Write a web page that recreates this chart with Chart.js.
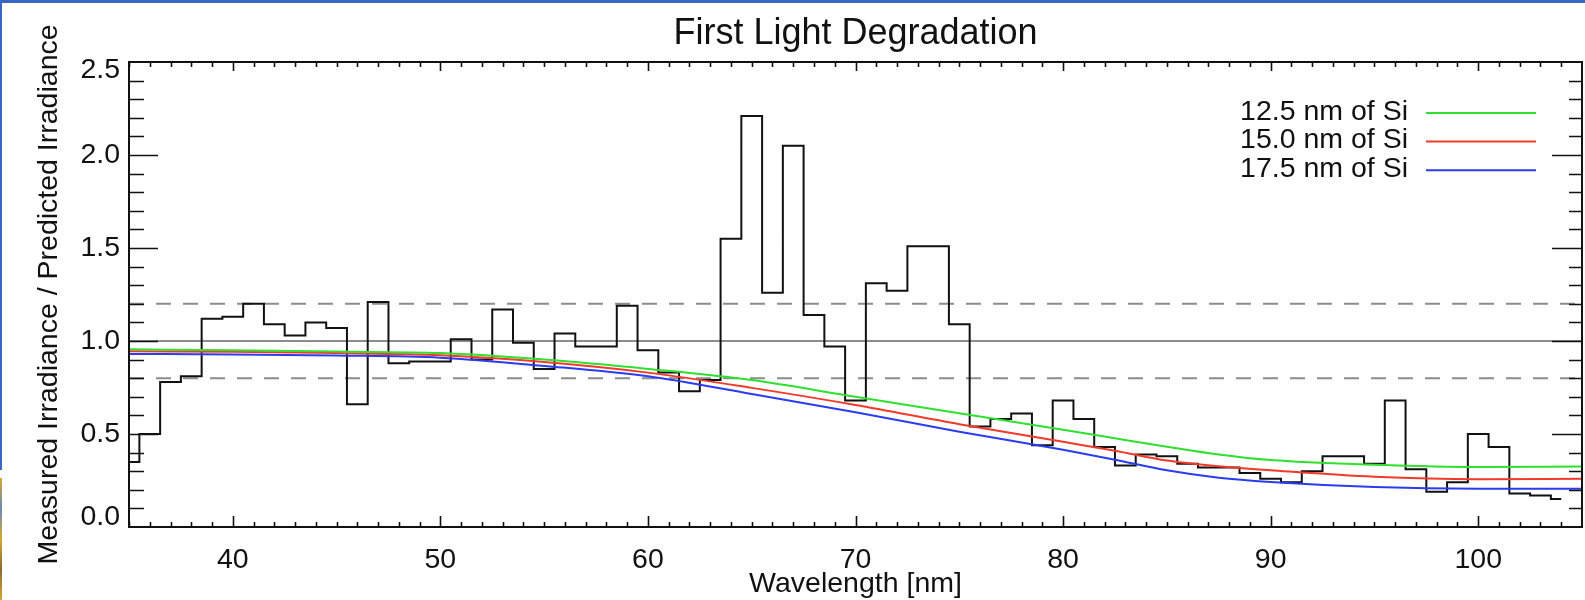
<!DOCTYPE html>
<html>
<head>
<meta charset="utf-8">
<title>First Light Degradation</title>
<script src="https://cdn.jsdelivr.net/npm/chart.js@4.4.1/dist/chart.umd.min.js"></script>
<style>
    html, body { margin: 0; padding: 0; background: #fff; }
    #wrap { position: relative; width: 1585px; height: 600px; overflow: hidden; }
    #topBand { position: absolute; left: 0; top: 0; width: 1585px; height: 3px; background: #3a66c4; }
    #leftBand { position: absolute; left: 0; top: 0; width: 2px; height: 470px; background: #3a66c4; }
    #leftImg { position: absolute; left: 0; top: 478px; width: 2px; height: 122px; background: linear-gradient(#d8a830, #6a88b8, #d8a830, #8a6a30, #d8a830); }
    canvas { display: block; }
</style>
</head>
<body>
<div id="wrap">
    <canvas id="degradationChart" width="1585" height="600"></canvas>
    <div id="topBand"></div>
    <div id="leftBand"></div>
    <div id="leftImg"></div>
</div>
<script>
// measured / predicted irradiance, one value per 1 nm bin
const wavelength = [35, 36, 37, 38, 39, 40, 41, 42, 43, 44, 45, 46, 47, 48, 49, 50, 51, 52, 53, 54,
    55, 56, 57, 58, 59, 60, 61, 62, 63, 64, 65, 66, 67, 68, 69, 70, 71, 72, 73, 74,
    75, 76, 77, 78, 79, 80, 81, 82, 83, 84, 85, 86, 87, 88, 89, 90, 91, 92, 93, 94,
    95, 96, 97, 98, 99, 100, 101, 102, 103, 104];
const ratio = [0.35, 0.50, 0.78, 0.81, 1.12, 1.13, 1.20, 1.09, 1.03, 1.10, 1.07, 0.66, 1.21, 0.88, 0.89, 0.89, 1.01, 0.90, 1.17, 0.99,
    0.85, 1.04, 0.97, 0.97, 1.19, 0.95, 0.83, 0.73, 0.79, 1.55, 2.21, 1.26, 2.05, 1.14, 0.97, 0.68, 1.31, 1.27, 1.51, 1.51,
    1.09, 0.54, 0.58, 0.61, 0.44, 0.68, 0.58, 0.43, 0.33, 0.39, 0.38, 0.34, 0.32, 0.32, 0.29, 0.26, 0.24, 0.30, 0.38, 0.38,
    0.34, 0.68, 0.31, 0.19, 0.24, 0.50, 0.43, 0.18, 0.17, 0.15];

// model curves for three Si layer thicknesses
const curveWavelength = [35, 40, 45, 50, 55, 60, 65, 70, 75, 80, 82.5, 85, 87.5, 90, 95, 100, 105];
const si125 = [0.955, 0.950, 0.943, 0.935, 0.900, 0.850, 0.790, 0.700, 0.612, 0.523, 0.477, 0.432, 0.390, 0.360, 0.335, 0.323, 0.325];
const si150 = [0.945, 0.942, 0.935, 0.923, 0.887, 0.830, 0.748, 0.656, 0.553, 0.458, 0.410, 0.357, 0.326, 0.305, 0.270, 0.257, 0.260];
const si175 = [0.930, 0.928, 0.922, 0.910, 0.866, 0.810, 0.715, 0.617, 0.512, 0.415, 0.362, 0.305, 0.265, 0.242, 0.215, 0.206, 0.206];
const curveLabels = ['12.5 nm of Si', '15.0 nm of Si', '17.5 nm of Si'];
const curveColors = ['#2fe02f', '#f23a2a', '#2a3cf0'];

const refLevels = [1.0, 1.2, 0.8];
const xRange = [35, 105];
const yRange = [0, 2.5];
const xTickLabels = [40, 50, 60, 70, 80, 90, 100];
const yTickLabels = [0.0, 0.5, 1.0, 1.5, 2.0, 2.5];

const FONT = '"Liberation Sans", Arial, Helvetica, sans-serif';

function toPoints(xs, ys) {
    return xs.map((x, i) => ({ x: x, y: ys[i] }));
}

const datasets = [];

refLevels.forEach((level, i) => {
    datasets.push({
        data: [{ x: xRange[0], y: level }, { x: xRange[1], y: level }],
        borderColor: '#8c8c8c',
        borderWidth: 2,
        borderDash: i === 0 ? [] : [15, 12],
        pointRadius: 0,
        order: 10
    });
});

datasets.push({
    data: toPoints(wavelength, ratio),
    stepped: 'middle',
    borderColor: '#111',
    borderWidth: 2,
    pointRadius: 0,
    order: 5
});

[si125, si150, si175].forEach((values, i) => {
    datasets.push({
        label: curveLabels[i],
        data: toPoints(curveWavelength, values),
        borderColor: curveColors[i],
        borderWidth: 2,
        cubicInterpolationMode: 'monotone',
        pointRadius: 0,
        order: 1
    });
});

// box around the plot, inward ticks on all sides, y labels kept inside the frame
const frameTicks = {
    id: 'frameTicks',
    afterDatasetsDraw(chart) {
        const { ctx, chartArea } = chart;
        const { left, right, top, bottom } = chartArea;
        const xs = chart.scales.x;
        const ys = chart.scales.y;

        ctx.save();
        ctx.strokeStyle = '#111';
        ctx.lineWidth = 2;
        ctx.strokeRect(left, top, right - left, bottom - top);

        ctx.lineWidth = 1.6;
        ctx.beginPath();
        for (let v = Math.ceil(xs.min); v < xs.max; v++) {
            const px = Math.round(xs.getPixelForValue(v)) + 0.5;
            const major = v % 10 === 0;
            ctx.moveTo(px, bottom);
            ctx.lineTo(px, bottom - (major ? 11 : 5));
            ctx.moveTo(px, top);
            ctx.lineTo(px, top + (major ? 9 : 5));
        }
        for (let k = 1; k < Math.round(ys.max * 10); k++) {
            const py = Math.round(ys.getPixelForValue(k / 10)) + 0.5;
            const major = k % 5 === 0;
            ctx.moveTo(left, py);
            ctx.lineTo(left + (major ? 29 : 15), py);
            ctx.moveTo(right, py);
            ctx.lineTo(right - (major ? 30 : 13), py);
        }
        ctx.stroke();

        ctx.fillStyle = '#111';
        ctx.font = '28.5px ' + FONT;
        ctx.textAlign = 'right';
        ctx.textBaseline = 'middle';
        yTickLabels.forEach(v => {
            let py = ys.getPixelForValue(v);
            py = Math.min(Math.max(py, top + 8), bottom - 10);
            ctx.fillText(v.toFixed(1), left - 9, py);
        });
        ctx.restore();
    }
};

// legend in the upper right: text first, then a line sample
const lineLegend = {
    id: 'lineLegend',
    afterDraw(chart) {
        const ctx = chart.ctx;
        const items = chart.data.datasets.filter(d => d.label);
        ctx.save();
        ctx.font = '28.5px ' + FONT;
        ctx.textAlign = 'right';
        ctx.textBaseline = 'alphabetic';
        items.forEach((d, i) => {
            const baseY = 119.5 + i * 28.6;
            ctx.fillStyle = '#111';
            ctx.fillText(d.label, 1408, baseY);
            ctx.strokeStyle = d.borderColor;
            ctx.lineWidth = 2;
            ctx.beginPath();
            ctx.moveTo(1426, baseY - 6.5);
            ctx.lineTo(1536, baseY - 6.5);
            ctx.stroke();
        });
        ctx.restore();
    }
};

const ctx = document.getElementById('degradationChart').getContext('2d');
new Chart(ctx, {
    type: 'line',
    data: { datasets: datasets },
    options: {
        responsive: false,
        animation: false,
        devicePixelRatio: 1,
        layout: { padding: { left: 0, right: 3, top: 0, bottom: 0 } },
        plugins: {
            legend: { display: false },
            tooltip: { enabled: false },
            title: {
                display: true,
                fullSize: false,
                text: 'First Light Degradation',
                color: '#111',
                font: { family: FONT, size: 36, weight: 'normal', lineHeight: 1 },
                padding: { top: 16, bottom: 10 }
            }
        },
        scales: {
            x: {
                type: 'linear',
                min: xRange[0],
                max: xRange[1],
                grid: { display: false },
                border: { display: false },
                afterBuildTicks: scale => {
                    scale.ticks = xTickLabels.map(v => ({ value: v }));
                },
                afterFit: scale => { scale.height = 73; },
                ticks: {
                    color: '#111',
                    padding: 11,
                    maxRotation: 0,
                    font: { family: FONT, size: 28.5, lineHeight: 1 }
                },
                title: {
                    display: true,
                    text: 'Wavelength [nm]',
                    color: '#111',
                    font: { family: FONT, size: 28.5, lineHeight: 1 },
                    padding: { top: 0, bottom: 2 }
                }
            },
            y: {
                type: 'linear',
                min: yRange[0],
                max: yRange[1],
                grid: { display: false },
                border: { display: false },
                ticks: { display: false },
                afterFit: scale => { scale.width = 129; },
                title: {
                    display: true,
                    text: 'Measured Irradiance / Predicted Irradiance',
                    color: '#111',
                    font: { family: FONT, size: 28.5, lineHeight: 1 },
                    padding: { top: 35, bottom: 0 }
                }
            }
        }
    },
    plugins: [frameTicks, lineLegend]
});
</script>
</body>
</html>
